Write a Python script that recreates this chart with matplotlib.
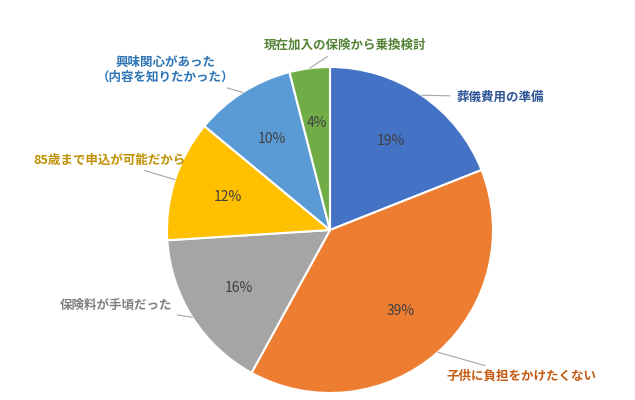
import matplotlib
matplotlib.use("Agg")
import matplotlib.pyplot as plt
import numpy as np

plt.rcParams['font.family'] = ['Noto Sans CJK JP', 'DejaVu Sans']

labels = ["葬儀費用の準備", "子供に負担をかけたくない", "保険料が手頃だった",
          "85歳まで申込が可能だから", "興味関心があった\n（内容を知りたかった）", "現在加入の保険から乗換検討"]
values = [19, 39, 16, 12, 10, 4]
colors = ["#4472C4", "#ED7D31", "#A5A5A5", "#FFC000", "#5B9BD5", "#70AD47"]
label_colors = ["#2F5597", "#C55A11", "#7F7F7F", "#BF9000", "#2E75B6", "#548235"]
# label anchor positions in pixels (x, y from top)
label_px = [(457, 97), (447, 376), (172, 305), (186, 160), (165, 70), (345, 45)]
label_ha = ["left", "left", "right", "right", "center", "center"]

fig = plt.figure(figsize=(6.35, 4), dpi=100)
cx, cy, r = 330, 230, 163
ax = fig.add_axes([(cx - r) / 635, (400 - cy - r) / 400, 2 * r / 635, 2 * r / 400])

wedges, texts = ax.pie(values, colors=colors, startangle=90, counterclock=False,
                       wedgeprops=dict(edgecolor="white", linewidth=1.5), radius=1)
ax.set_xlim(-1, 1)
ax.set_ylim(-1, 1)
ax.set_aspect("equal")

for w, v, lab, lc, (px, py), ha in zip(wedges, values, labels, label_colors, label_px, label_ha):
    mid = np.deg2rad((w.theta1 + w.theta2) / 2)
    ax.text(0.66 * np.cos(mid), 0.66 * np.sin(mid), f"{v}%", ha="center", va="center",
            fontsize=10, color="#404040")
    tx, ty = (px - cx) / r, (cy - py) / r
    ax.annotate(lab, xy=(1.0 * np.cos(mid), 1.0 * np.sin(mid)), xytext=(tx, ty),
                ha=ha, va="center", fontsize=9, color=lc, fontweight="bold",
                multialignment="center", annotation_clip=False,
                arrowprops=dict(arrowstyle="-", color="#A6A6A6", lw=0.8,
                                shrinkA=3, shrinkB=0))

fig.savefig("out.png", dpi=100)
